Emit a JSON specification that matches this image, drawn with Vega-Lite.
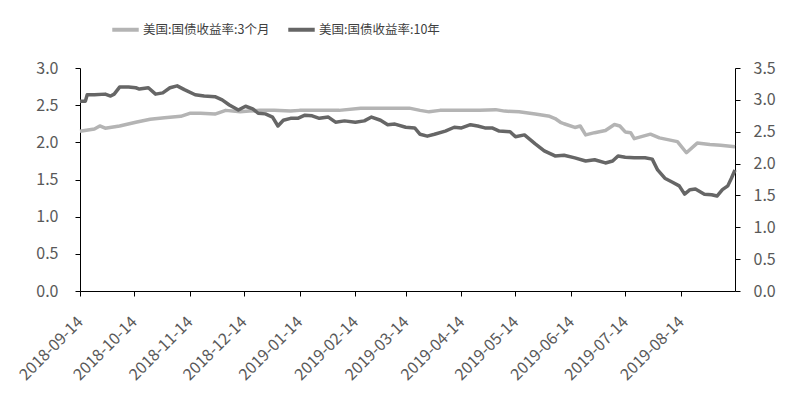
{
  "$schema": "https://vega.github.io/schema/vega-lite/v6.json",
  "width": 655,
  "height": 223,
  "autosize": {"type": "none"},
  "padding": {"left": 80, "top": 68, "right": 60, "bottom": 107},
  "background": "white",
  "config": {
    "view": {"stroke": null},
    "font": "Noto Sans CJK SC",
    "axis": {"grid": false, "domainColor": "#000000", "tickColor": "#000000", "labelColor": "#595959", "labelFontSize": 16, "tickSize": 5, "domainWidth": 1, "tickWidth": 1, "title": null}
  },
  "datasets": {
    "rates": [
      {"date": "2018-09-14", "series": "美国:国债收益率:3个月", "value": 2.15},
      {"date": "2018-09-22", "series": "美国:国债收益率:3个月", "value": 2.18},
      {"date": "2018-09-25", "series": "美国:国债收益率:3个月", "value": 2.22},
      {"date": "2018-09-28", "series": "美国:国债收益率:3个月", "value": 2.19},
      {"date": "2018-10-06", "series": "美国:国债收益率:3个月", "value": 2.22},
      {"date": "2018-10-15", "series": "美国:国债收益率:3个月", "value": 2.27},
      {"date": "2018-10-23", "series": "美国:国债收益率:3个月", "value": 2.31},
      {"date": "2018-10-31", "series": "美国:国债收益率:3个月", "value": 2.33},
      {"date": "2018-11-09", "series": "美国:国债收益率:3个月", "value": 2.35},
      {"date": "2018-11-14", "series": "美国:国债收益率:3个月", "value": 2.39},
      {"date": "2018-11-20", "series": "美国:国债收益率:3个月", "value": 2.39},
      {"date": "2018-11-28", "series": "美国:国债收益率:3个月", "value": 2.38},
      {"date": "2018-12-04", "series": "美国:国债收益率:3个月", "value": 2.43},
      {"date": "2018-12-12", "series": "美国:国债收益率:3个月", "value": 2.41},
      {"date": "2018-12-17", "series": "美国:国债收益率:3个月", "value": 2.42},
      {"date": "2018-12-23", "series": "美国:国债收益率:3个月", "value": 2.43},
      {"date": "2018-12-31", "series": "美国:国债收益率:3个月", "value": 2.43},
      {"date": "2019-01-09", "series": "美国:国债收益率:3个月", "value": 2.42},
      {"date": "2019-01-14", "series": "美国:国债收益率:3个月", "value": 2.43},
      {"date": "2019-01-25", "series": "美国:国债收益率:3个月", "value": 2.43},
      {"date": "2019-02-05", "series": "美国:国债收益率:3个月", "value": 2.43},
      {"date": "2019-02-17", "series": "美国:国债收益率:3个月", "value": 2.46},
      {"date": "2019-02-28", "series": "美国:国债收益率:3个月", "value": 2.46},
      {"date": "2019-03-11", "series": "美国:国债收益率:3个月", "value": 2.46},
      {"date": "2019-03-16", "series": "美国:国债收益率:3个月", "value": 2.46},
      {"date": "2019-03-22", "series": "美国:国债收益率:3个月", "value": 2.43},
      {"date": "2019-03-27", "series": "美国:国债收益率:3个月", "value": 2.41},
      {"date": "2019-04-02", "series": "美国:国债收益率:3个月", "value": 2.43},
      {"date": "2019-04-13", "series": "美国:国债收益率:3个月", "value": 2.43},
      {"date": "2019-04-24", "series": "美国:国债收益率:3个月", "value": 2.43},
      {"date": "2019-05-03", "series": "美国:国债收益率:3个月", "value": 2.44},
      {"date": "2019-05-08", "series": "美国:国债收益率:3个月", "value": 2.42},
      {"date": "2019-05-16", "series": "美国:国债收益率:3个月", "value": 2.41},
      {"date": "2019-05-25", "series": "美国:国债收益率:3个月", "value": 2.38},
      {"date": "2019-06-02", "series": "美国:国债收益率:3个月", "value": 2.35},
      {"date": "2019-06-05", "series": "美国:国债收益率:3个月", "value": 2.32},
      {"date": "2019-06-08", "series": "美国:国债收益率:3个月", "value": 2.27},
      {"date": "2019-06-10", "series": "美国:国债收益率:3个月", "value": 2.25},
      {"date": "2019-06-16", "series": "美国:国债收益率:3个月", "value": 2.20},
      {"date": "2019-06-19", "series": "美国:国债收益率:3个月", "value": 2.22},
      {"date": "2019-06-22", "series": "美国:国债收益率:3个月", "value": 2.10},
      {"date": "2019-06-27", "series": "美国:国债收益率:3个月", "value": 2.13},
      {"date": "2019-07-03", "series": "美国:国债收益率:3个月", "value": 2.16},
      {"date": "2019-07-08", "series": "美国:国债收益率:3个月", "value": 2.24},
      {"date": "2019-07-11", "series": "美国:国债收益率:3个月", "value": 2.22},
      {"date": "2019-07-14", "series": "美国:国债收益率:3个月", "value": 2.14},
      {"date": "2019-07-17", "series": "美国:国债收益率:3个月", "value": 2.13},
      {"date": "2019-07-19", "series": "美国:国债收益率:3个月", "value": 2.05},
      {"date": "2019-07-25", "series": "美国:国债收益率:3个月", "value": 2.09},
      {"date": "2019-07-28", "series": "美国:国债收益率:3个月", "value": 2.11},
      {"date": "2019-08-02", "series": "美国:国债收益率:3个月", "value": 2.06},
      {"date": "2019-08-12", "series": "美国:国债收益率:3个月", "value": 2.01},
      {"date": "2019-08-17", "series": "美国:国债收益率:3个月", "value": 1.86},
      {"date": "2019-08-23", "series": "美国:国债收益率:3个月", "value": 1.99},
      {"date": "2019-08-30", "series": "美国:国债收益率:3个月", "value": 1.97},
      {"date": "2019-09-05", "series": "美国:国债收益率:3个月", "value": 1.96},
      {"date": "2019-09-13", "series": "美国:国债收益率:3个月", "value": 1.94},
      {"date": "2018-09-14", "series": "美国:国债收益率:10年", "value": 2.98},
      {"date": "2018-09-17", "series": "美国:国债收益率:10年", "value": 2.98},
      {"date": "2018-09-18", "series": "美国:国债收益率:10年", "value": 3.08},
      {"date": "2018-09-22", "series": "美国:国债收益率:10年", "value": 3.08},
      {"date": "2018-09-28", "series": "美国:国债收益率:10年", "value": 3.09},
      {"date": "2018-10-01", "series": "美国:国债收益率:10年", "value": 3.06},
      {"date": "2018-10-03", "series": "美国:国债收益率:10年", "value": 3.09},
      {"date": "2018-10-06", "series": "美国:国债收益率:10年", "value": 3.20},
      {"date": "2018-10-11", "series": "美国:国债收益率:10年", "value": 3.20},
      {"date": "2018-10-15", "series": "美国:国债收益率:10年", "value": 3.19},
      {"date": "2018-10-17", "series": "美国:国债收益率:10年", "value": 3.17},
      {"date": "2018-10-22", "series": "美国:国债收益率:10年", "value": 3.19},
      {"date": "2018-10-26", "series": "美国:国债收益率:10年", "value": 3.09},
      {"date": "2018-10-30", "series": "美国:国债收益率:10年", "value": 3.11},
      {"date": "2018-11-03", "series": "美国:国债收益率:10年", "value": 3.19},
      {"date": "2018-11-07", "series": "美国:国债收益率:10年", "value": 3.22},
      {"date": "2018-11-11", "series": "美国:国债收益率:10年", "value": 3.16},
      {"date": "2018-11-17", "series": "美国:国债收益率:10年", "value": 3.08},
      {"date": "2018-11-22", "series": "美国:国债收益率:10年", "value": 3.06},
      {"date": "2018-11-28", "series": "美国:国债收益率:10年", "value": 3.05},
      {"date": "2018-12-02", "series": "美国:国债收益率:10年", "value": 3.00},
      {"date": "2018-12-06", "series": "美国:国债收益率:10年", "value": 2.92},
      {"date": "2018-12-11", "series": "美国:国债收益率:10年", "value": 2.84},
      {"date": "2018-12-15", "series": "美国:国债收益率:10年", "value": 2.90},
      {"date": "2018-12-19", "series": "美国:国债收益率:10年", "value": 2.86},
      {"date": "2018-12-22", "series": "美国:国债收益率:10年", "value": 2.79},
      {"date": "2018-12-26", "series": "美国:国债收益率:10年", "value": 2.78},
      {"date": "2018-12-30", "series": "美国:国债收益率:10年", "value": 2.73},
      {"date": "2019-01-02", "series": "美国:国债收益率:10年", "value": 2.59},
      {"date": "2019-01-05", "series": "美国:国债收益率:10年", "value": 2.68},
      {"date": "2019-01-09", "series": "美国:国债收益率:10年", "value": 2.71},
      {"date": "2019-01-13", "series": "美国:国债收益率:10年", "value": 2.71},
      {"date": "2019-01-17", "series": "美国:国债收益率:10年", "value": 2.76},
      {"date": "2019-01-21", "series": "美国:国债收益率:10年", "value": 2.75},
      {"date": "2019-01-25", "series": "美国:国债收益率:10年", "value": 2.71},
      {"date": "2019-01-30", "series": "美国:国债收益率:10年", "value": 2.73},
      {"date": "2019-02-03", "series": "美国:国债收益率:10年", "value": 2.65},
      {"date": "2019-02-08", "series": "美国:国债收益率:10年", "value": 2.67},
      {"date": "2019-02-14", "series": "美国:国债收益率:10年", "value": 2.65},
      {"date": "2019-02-19", "series": "美国:国债收益率:10年", "value": 2.67},
      {"date": "2019-02-23", "series": "美国:国债收益率:10年", "value": 2.73},
      {"date": "2019-02-28", "series": "美国:国债收益率:10年", "value": 2.68},
      {"date": "2019-03-04", "series": "美国:国债收益率:10年", "value": 2.61},
      {"date": "2019-03-08", "series": "美国:国债收益率:10年", "value": 2.62},
      {"date": "2019-03-14", "series": "美国:国债收益率:10年", "value": 2.57},
      {"date": "2019-03-19", "series": "美国:国债收益率:10年", "value": 2.56},
      {"date": "2019-03-22", "series": "美国:国债收益率:10年", "value": 2.46},
      {"date": "2019-03-26", "series": "美国:国债收益率:10年", "value": 2.43},
      {"date": "2019-03-30", "series": "美国:国债收益率:10年", "value": 2.46},
      {"date": "2019-04-05", "series": "美国:国债收益率:10年", "value": 2.51},
      {"date": "2019-04-10", "series": "美国:国债收益率:10年", "value": 2.57},
      {"date": "2019-04-14", "series": "美国:国债收益率:10年", "value": 2.56},
      {"date": "2019-04-19", "series": "美国:国债收益率:10年", "value": 2.61},
      {"date": "2019-04-23", "series": "美国:国债收益率:10年", "value": 2.59},
      {"date": "2019-04-27", "series": "美国:国债收益率:10年", "value": 2.56},
      {"date": "2019-05-01", "series": "美国:国债收益率:10年", "value": 2.56},
      {"date": "2019-05-05", "series": "美国:国债收益率:10年", "value": 2.51},
      {"date": "2019-05-11", "series": "美国:国债收益率:10年", "value": 2.50},
      {"date": "2019-05-14", "series": "美国:国债收益率:10年", "value": 2.42},
      {"date": "2019-05-19", "series": "美国:国债收益率:10年", "value": 2.45},
      {"date": "2019-05-25", "series": "美国:国债收益率:10年", "value": 2.31},
      {"date": "2019-05-30", "series": "美国:国债收益率:10年", "value": 2.20},
      {"date": "2019-06-05", "series": "美国:国债收益率:10年", "value": 2.12},
      {"date": "2019-06-10", "series": "美国:国债收益率:10年", "value": 2.13},
      {"date": "2019-06-16", "series": "美国:国债收益率:10年", "value": 2.09},
      {"date": "2019-06-22", "series": "美国:国债收益率:10年", "value": 2.04},
      {"date": "2019-06-27", "series": "美国:国债收益率:10年", "value": 2.06},
      {"date": "2019-07-03", "series": "美国:国债收益率:10年", "value": 2.01},
      {"date": "2019-07-07", "series": "美国:国债收益率:10年", "value": 2.04},
      {"date": "2019-07-10", "series": "美国:国债收益率:10年", "value": 2.12},
      {"date": "2019-07-14", "series": "美国:国债收益率:10年", "value": 2.10},
      {"date": "2019-07-19", "series": "美国:国债收益率:10年", "value": 2.09},
      {"date": "2019-07-25", "series": "美国:国债收益率:10年", "value": 2.09},
      {"date": "2019-07-29", "series": "美国:国债收益率:10年", "value": 2.07},
      {"date": "2019-08-01", "series": "美国:国债收益率:10年", "value": 1.90},
      {"date": "2019-08-05", "series": "美国:国债收益率:10年", "value": 1.77},
      {"date": "2019-08-09", "series": "美国:国债收益率:10年", "value": 1.71},
      {"date": "2019-08-13", "series": "美国:国债收益率:10年", "value": 1.65},
      {"date": "2019-08-16", "series": "美国:国债收益率:10年", "value": 1.52},
      {"date": "2019-08-19", "series": "美国:国债收益率:10年", "value": 1.59},
      {"date": "2019-08-22", "series": "美国:国债收益率:10年", "value": 1.60},
      {"date": "2019-08-27", "series": "美国:国债收益率:10年", "value": 1.52},
      {"date": "2019-08-31", "series": "美国:国债收益率:10年", "value": 1.51},
      {"date": "2019-09-03", "series": "美国:国债收益率:10年", "value": 1.49},
      {"date": "2019-09-06", "series": "美国:国债收益率:10年", "value": 1.59},
      {"date": "2019-09-09", "series": "美国:国债收益率:10年", "value": 1.65},
      {"date": "2019-09-11", "series": "美国:国债收益率:10年", "value": 1.77},
      {"date": "2019-09-13", "series": "美国:国债收益率:10年", "value": 1.90}
    ]
  },
  "data": {"name": "rates"},
  "encoding": {
    "x": {
      "field": "date",
      "type": "temporal",
      "scale": {"type": "utc", "domain": [{"year": 2018, "month": 9, "date": 14, "utc": true}, {"year": 2019, "month": 9, "date": 13, "utc": true}]},
      "axis": {
        "values": [
          {"year": 2018, "month": 9, "date": 14, "utc": true},
          {"year": 2018, "month": 10, "date": 14, "utc": true},
          {"year": 2018, "month": 11, "date": 14, "utc": true},
          {"year": 2018, "month": 12, "date": 14, "utc": true},
          {"year": 2019, "month": 1, "date": 14, "utc": true},
          {"year": 2019, "month": 2, "date": 14, "utc": true},
          {"year": 2019, "month": 3, "date": 14, "utc": true},
          {"year": 2019, "month": 4, "date": 14, "utc": true},
          {"year": 2019, "month": 5, "date": 14, "utc": true},
          {"year": 2019, "month": 6, "date": 14, "utc": true},
          {"year": 2019, "month": 7, "date": 14, "utc": true},
          {"year": 2019, "month": 8, "date": 14, "utc": true}
        ],
        "format": "%Y-%m-%d",
        "labelAngle": -45,
        "labelAlign": "right",
        "labelBaseline": "middle",
        "labelFontSize": 16,
        "labelPadding": 23,
        "labelOverlap": false,
        "labelFlush": false
      }
    },
    "color": {
      "field": "series",
      "type": "nominal",
      "scale": {"domain": ["美国:国债收益率:3个月", "美国:国债收益率:10年"], "range": ["#b4b4b4", "#666666"]},
      "legend": {
        "title": null,
        "orient": "none",
        "direction": "horizontal",
        "legendX": 30,
        "legendY": -54,
        "symbolType": "stroke",
        "symbolStrokeWidth": 4,
        "symbolSize": 700,
        "labelFontSize": 12.5,
        "labelColor": "#404040",
        "columnPadding": 10,
        "labelOffset": 2
      }
    }
  },
  "layer": [
    {
      "transform": [{"filter": "datum.series === '美国:国债收益率:3个月'"}],
      "mark": {"type": "line", "strokeWidth": 3.5, "strokeJoin": "round"},
      "encoding": {
        "y": {
          "field": "value",
          "type": "quantitative",
          "scale": {"domain": [0, 3], "nice": false, "zero": true},
          "axis": {"orient": "left", "values": [0, 0.5, 1, 1.5, 2, 2.5, 3], "format": ".1f", "labelPadding": 17}
        }
      }
    },
    {
      "transform": [{"filter": "datum.series === '美国:国债收益率:10年'"}],
      "mark": {"type": "line", "strokeWidth": 3.5, "strokeJoin": "round"},
      "encoding": {
        "y": {
          "field": "value",
          "type": "quantitative",
          "scale": {"domain": [0, 3.5], "nice": false, "zero": true},
          "axis": {"orient": "right", "values": [0, 0.5, 1, 1.5, 2, 2.5, 3, 3.5], "format": ".1f", "labelPadding": 13}
        }
      }
    }
  ],
  "resolve": {"scale": {"y": "independent"}}
}
